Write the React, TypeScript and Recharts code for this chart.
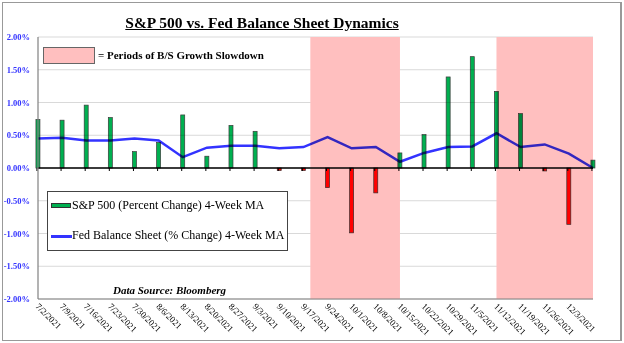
import React from "react";
import {
  ComposedChart,
  Bar,
  Line,
  XAxis,
  YAxis,
  CartesianGrid,
  ReferenceArea,
  ReferenceLine,
  Legend,
} from "recharts";

// ---- data ----
const weekDates = [
  "7/2/2021", "7/9/2021", "7/16/2021", "7/23/2021", "7/30/2021", "8/6/2021",
  "8/13/2021", "8/20/2021", "8/27/2021", "9/3/2021", "9/10/2021", "9/17/2021",
  "9/24/2021", "10/1/2021", "10/8/2021", "10/15/2021", "10/22/2021", "10/29/2021",
  "11/5/2021", "11/12/2021", "11/19/2021", "11/26/2021", "12/3/2021", "12/10/2021",
];
const tickDates = [
  "7/2/2021", "7/9/2021", "7/16/2021", "7/23/2021", "7/30/2021", "8/6/2021",
  "8/13/2021", "8/20/2021", "8/27/2021", "9/3/2021", "9/10/2021", "9/17/2021",
  "9/24/2021", "10/1/2021", "10/8/2021", "10/15/2021", "10/22/2021", "10/29/2021",
  "11/5/2021", "11/12/2021", "11/19/2021", "11/26/2021", "12/3/2021",
];
const sp500Change = [
  0.74, 0.73, 0.96, 0.77, 0.25, 0.39, 0.81, 0.18, 0.65, 0.56, -0.04, -0.04,
  -0.3, -0.99, -0.38, 0.23, 0.51, 1.39, 1.7, 1.17, 0.83, -0.045, -0.86, 0.12,
];
const fedChange = [
  0.45, 0.46, 0.42, 0.42, 0.45, 0.42, 0.165, 0.31, 0.34, 0.34, 0.3, 0.32,
  0.47, 0.3, 0.32, 0.095, 0.23, 0.32, 0.33, 0.53, 0.32, 0.36, 0.22, 0.0,
];
const slowdownStarts = ["9/19/2021", "11/12/2021"];
const slowdownEnds = ["10/15/2021", "12/10/2021"];
const yTicks = [-2, -1.5, -1, -0.5, 0, 0.5, 1, 1.5, 2];

const parseDay = (s: string) => {
  const [m, d, y] = s.split("/").map(Number);
  return Math.round(Date.UTC(y, m - 1, d) / 86400000);
};

const data = weekDates.map((d, i) => ({
  t: parseDay(d),
  label: d,
  sp: sp500Change[i],
  fed: fedChange[i],
}));

const labelByDay: Record<number, string> = {};
tickDates.forEach((d) => (labelByDay[parseDay(d)] = d));

const SERIF = '"Liberation Serif", "Times New Roman", serif';
const GREEN = "#00b050";
const RED = "#ff0000";
const BLUE = "#3333ff";
const PINK = "#ffbfbf";

const XTick = (p: any) => {
  const { x, y, payload } = p;
  const ox = x - 3;
  const oy = y;
  return (
    <text
      x={ox}
      y={oy}
      transform={`rotate(45, ${ox}, ${oy})`}
      fontSize={9}
      fontFamily={SERIF}
      fill="#000"
      textAnchor="start"
    >
      {labelByDay[payload.value] ?? ""}
    </text>
  );
};

const BarShape = (p: any) => {
  const { x, y, width, height, payload } = p;
  const base = y + height;
  const top = Math.min(y, base);
  const h = Math.abs(height);
  const cx = x + width / 2;
  return (
    <g>
      <rect
        x={x}
        y={top}
        width={width}
        height={h}
        fill={payload.sp < 0 ? RED : GREEN}
        stroke="#3a3a3a"
        strokeWidth={0.7}
        style={{ mixBlendMode: "multiply" }}
      />
      <line x1={cx - 1} x2={cx - 1} y1={base} y2={base + 3} stroke="#000" strokeWidth={1} />
    </g>
  );
};

const ShadeShape = (p: any) => (
  <rect x={p.x} y={p.y} width={p.width} height={p.height} fill={PINK} />
);

const Txt = ({ left, baseline, size, bold, italic, children, style }: any) => (
  <div
    style={{
      position: "absolute",
      left,
      top: baseline - 0.8375 * size,
      fontSize: size,
      lineHeight: 1,
      fontFamily: SERIF,
      fontWeight: bold ? "bold" : "normal",
      fontStyle: italic ? "italic" : "normal",
      whiteSpace: "nowrap",
      color: "#000",
      ...style,
    }}
  >
    {children}
  </div>
);

const LegendBox = (props: any) => {
  const payload = props.payload || [];
  const barItem = payload.find((e: any) => e.dataKey === "sp");
  const lineItem = payload.find((e: any) => e.dataKey === "fed");
  return (
    <div
      style={{
        position: "relative",
        width: 241,
        height: 60,
        border: "1px solid #444",
        boxSizing: "border-box",
        background: "#fff",
        fontFamily: SERIF,
      }}
    >
      <div
        style={{
          position: "absolute",
          left: 3,
          top: 11,
          width: 20,
          height: 5,
          background: barItem ? barItem.color : GREEN,
          border: "1px solid #333",
          boxSizing: "border-box",
        }}
      />
      <Txt left={24} baseline={17} size={12}>
        {barItem ? barItem.value : ""}
      </Txt>
      <div
        style={{
          position: "absolute",
          left: 3,
          top: 43,
          width: 21,
          height: 2.5,
          background: lineItem ? lineItem.color : BLUE,
        }}
      />
      <Txt left={24} baseline={47} size={12}>
        {lineItem ? lineItem.value : ""}
      </Txt>
    </div>
  );
};

const css = `
.fed-line .recharts-line-curve { mix-blend-mode: multiply; }
.grid-mb line { mix-blend-mode: multiply; }
`;

export default function App() {
  return (
    <div
      style={{
        position: "absolute",
        left: 0,
        top: 0,
        width: 624,
        height: 343,
        background: "#fff",
        overflow: "hidden",
      }}
    >
      <style>{css}</style>
      <div
        style={{
          position: "absolute",
          left: 2,
          top: 2,
          width: 620,
          height: 339,
          borderTop: "1px solid #999",
          borderLeft: "1px solid #999",
          borderBottom: "1px solid #999",
          borderRight: "2px solid #999",
          boxSizing: "border-box",
        }}
      />
      <ComposedChart
        width={624}
        height={343}
        data={data}
        margin={{ top: 37, right: 31, bottom: 0, left: 0 }}
      >
        {slowdownStarts.map((s, i) => (
          <ReferenceArea
            key={s}
            x1={parseDay(s)}
            x2={parseDay(slowdownEnds[i])}
            shape={ShadeShape}
            ifOverflow="extendDomain"
          />
        ))}
        <CartesianGrid vertical={false} stroke="#d9d9d9" strokeWidth={1} className="grid-mb" />
        <XAxis
          dataKey="t"
          type="number"
          scale="linear"
          domain={[data[0].t, data[data.length - 1].t]}
          ticks={tickDates.map(parseDay)}
          interval={0}
          tick={<XTick />}
          tickLine={false}
          axisLine={{ stroke: "#808080", strokeWidth: 1.2 }}
          height={44}
        />
        <XAxis
          xAxisId="top"
          orientation="top"
          type="number"
          domain={[0, 1]}
          height={0}
          tick={false}
          tickLine={false}
          axisLine={{ stroke: "#808080", strokeWidth: 1.2 }}
        />
        <YAxis
          type="number"
          domain={[-2, 2]}
          ticks={yTicks}
          interval={0}
          width={38}
          tickFormatter={(v: number) => v.toFixed(2) + "%"}
          tick={{ fill: BLUE, fontSize: 8.5, fontWeight: "bold", fontFamily: SERIF }}
          tickLine={false}
          tickSize={6}
          tickMargin={2}
          axisLine={{ stroke: "#808080", strokeWidth: 1.2 }}
        />
        <YAxis
          yAxisId="right"
          orientation="right"
          type="number"
          domain={[0, 1]}
          width={0}
          tick={false}
          tickLine={false}
          axisLine={{ stroke: "#808080", strokeWidth: 1.5 }}
        />
        <Bar
          dataKey="sp"
          name="S&P 500 (Percent Change) 4-Week MA"
          fill={GREEN}
          barSize={4}
          shape={BarShape}
          isAnimationActive={false}
        />
        <ReferenceLine y={0} stroke="#000" strokeWidth={1.3} />
        <Line
          className="fed-line"
          dataKey="fed"
          name="Fed Balance Sheet (% Change) 4-Week MA"
          type="linear"
          stroke={BLUE}
          strokeWidth={2.5}
          dot={false}
          activeDot={false}
          isAnimationActive={false}
        />
        <Legend
          layout="horizontal"
          verticalAlign="middle"
          align="center"
          content={<LegendBox />}
          wrapperStyle={{ left: 47, top: 191, width: 241, height: 60 }}
        />
      </ComposedChart>

      <Txt
        left={0}
        baseline={27.5}
        size={15.5}
        bold
        style={{ width: 524, textAlign: "center", textDecoration: "underline" }}
      >
        S&amp;P 500 vs. Fed Balance Sheet Dynamics
      </Txt>

      <div
        style={{
          position: "absolute",
          left: 43,
          top: 47,
          width: 52,
          height: 17,
          background: PINK,
          border: "1px solid #666",
          boxSizing: "border-box",
        }}
      />
      <Txt left={98} baseline={59} size={11} bold>
        = Periods of B/S Growth Slowdown
      </Txt>

      <Txt left={113} baseline={294} size={11} bold italic>
        Data Source: Bloomberg
      </Txt>
    </div>
  );
}
